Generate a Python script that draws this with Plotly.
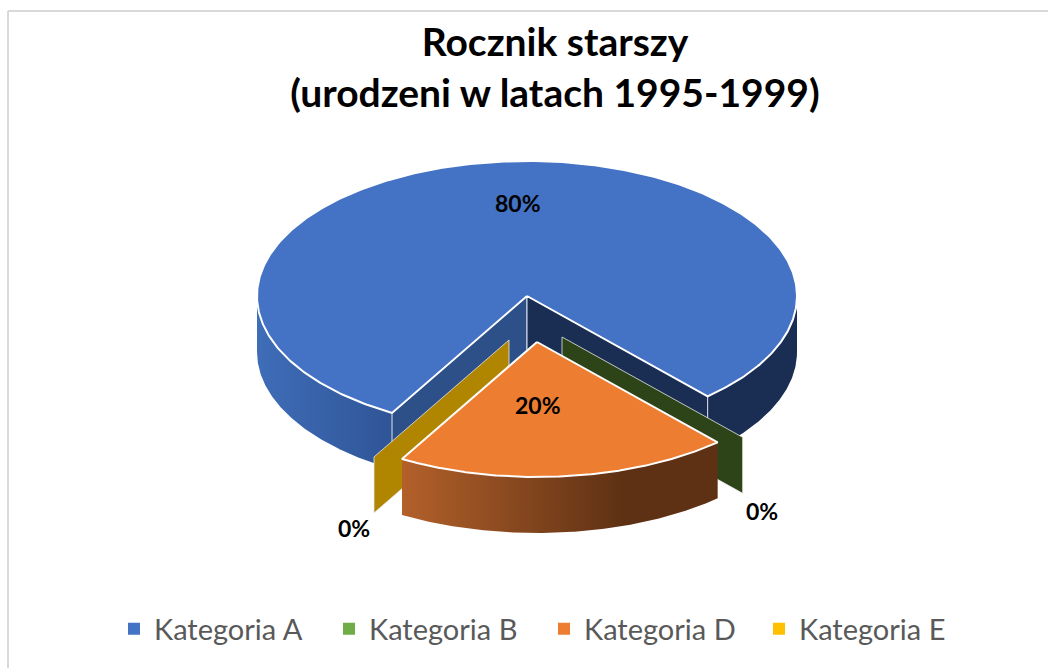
import numpy as np
import plotly.graph_objects as go

categories = ["Kategoria A", "Kategoria B", "Kategoria D", "Kategoria E"]
values = [80, 0, 20, 0]
percent_labels = ["80%", "0%", "20%", "0%"]
colors = ["#4472C4", "#70AD47", "#ED7D31", "#FFC000"]
explode = [(0, 0), (35, 41), (10, 46), (-18, 44)]
label_pos = [(518, 203), (762, 511), (538, 405), (354, 528)]

CX, CY, RX, RY, DEPTH, START = 527, 296, 270, 135, 56, 210

total = sum(values)
angles = []
a = START
for v in values:
    angles.append((a, a + 360 * v / total))
    a += 360 * v / total


def rim(t0, t1, cx, cy, n=160):
    t = np.radians(np.linspace(t0, t1, n))
    return cx + RX * np.sin(t), cy - RY * np.cos(t)


def point(t, cx, cy):
    t = np.radians(t)
    return cx + RX * np.sin(t), cy - RY * np.cos(t)


fig = go.Figure()


def poly(xs, ys, fill=None, line=None, lw=1.3, grad=None):
    kw = dict(x=list(xs), y=list(ys), mode="lines", fill="toself",
              showlegend=False, hoverinfo="skip",
              line=dict(color=line or "rgba(0,0,0,0)", width=lw if line else 0))
    if grad:
        kw["fillgradient"] = dict(type="horizontal", colorscale=grad)
    else:
        kw["fillcolor"] = fill
    fig.add_trace(go.Scatter(**kw))


def outer_wall(t0, t1, cx, cy, **kw):
    x, y = rim(t0, t1, cx, cy)
    poly(np.r_[x, x[::-1]], np.r_[y, y[::-1] + DEPTH], **kw)


def radial_wall(t, cx, cy, **kw):
    px, py = point(t, cx, cy)
    poly([cx, px, px, cx, cx], [cy, py, py + DEPTH, cy + DEPTH, cy], **kw)


def top_face(t0, t1, cx, cy, fill):
    x, y = rim(t0, t1, cx, cy, 400)
    poly(np.r_[cx, x, cx], np.r_[cy, y, cy], fill=fill, line="white", lw=2)


# Slice A: body
a0, a1 = angles[0]
end_a = a1 % 360
outer_wall(START, 270, CX, CY, grad=[[0, "#3F6DB8"], [1, "#2F5597"]])
outer_wall(90, end_a, CX, CY, fill="#1A2E54")
radial_wall(START, CX, CY, fill="#2E5089", line="#DCE3F0", lw=1)
radial_wall(end_a, CX, CY, fill="#1A2E54", line="#DCE3F0", lw=1)
top_face(a0, a1, CX, CY, colors[0])

# Slice E and slice B: zero-width walls
for idx, col in ((3, "#B08500"), (1, "#2C4418")):
    ex, ey = explode[idx]
    radial_wall(angles[idx][0] % 360, CX + ex, CY + ey, fill=col, line="#E8E8E8", lw=0.8)

# Slice D: exploded
ex, ey = explode[2]
d0, d1 = angles[2]
d0 %= 360
d1 = d0 + 360 * values[2] / total
outer_wall(d0, d1, CX + ex, CY + ey,
           grad=[[0, "#B3602A"], [0.7, "#5E3114"], [1, "#5E3114"]])
top_face(d0, d1, CX + ex, CY + ey, colors[2])

# Legend
for name, col in zip(categories, colors):
    fig.add_trace(go.Scatter(x=[None], y=[None], mode="markers", name=name,
                             marker=dict(symbol="square", size=12, color=col)))

for txt, (lx, ly) in zip(percent_labels, label_pos):
    fig.add_annotation(x=lx, y=ly, text=f"<b>{txt}</b>", showarrow=False,
                       font=dict(family="Lato", size=23, color="black"))

# Chart frame
fig.add_shape(type="line", xref="x", yref="y", x0=8, x1=1048, y0=11, y1=11,
              line=dict(color="#D9D9D9", width=2))
fig.add_shape(type="line", xref="x", yref="y", x0=8, x1=8, y0=11, y1=668,
              line=dict(color="#D9D9D9", width=2))

fig.update_layout(
    width=1048, height=668,
    margin=dict(l=0, r=0, t=0, b=0),
    paper_bgcolor="white", plot_bgcolor="white",
    xaxis=dict(range=[0, 1048], visible=False, fixedrange=True),
    yaxis=dict(range=[668, 0], visible=False, fixedrange=True),
    title=dict(text="<b>Rocznik starszy<br>(urodzeni w latach 1995-1999)</b>",
               x=555 / 1048, xanchor="center", y=1 - 56 / 668, yanchor="middle",
               font=dict(family="Lato", size=39, color="black")),
    legend=dict(orientation="h", x=114 / 1048, xanchor="left", y=1 - 629 / 668,
                yanchor="middle", entrywidth=170, entrywidthmode="pixels",
                itemwidth=30, itemsizing="trace", traceorder="normal",
                font=dict(family="Lato", size=29, color="#595959"),
                bgcolor="rgba(0,0,0,0)"),
)
fig.write_html("out.html", config={"displayModeBar": False},
               post_script="document.body.style.margin='0';document.body.style.overflow='hidden';")
